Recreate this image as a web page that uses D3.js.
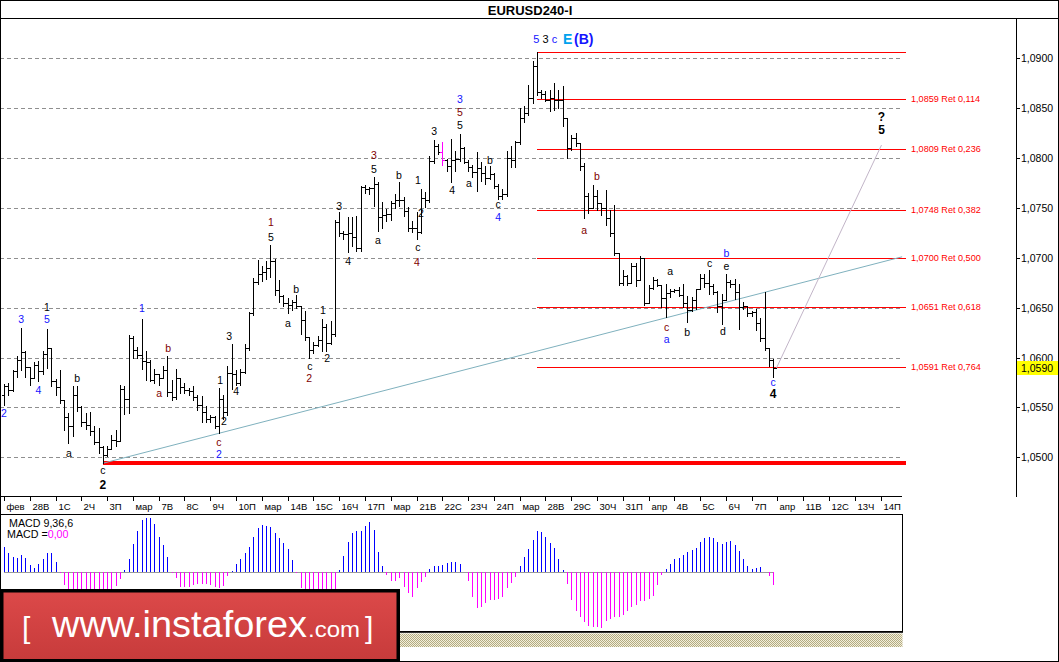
<!DOCTYPE html>
<html><head><meta charset="utf-8">
<script src="https://cdn.jsdelivr.net/npm/d3@7"></script>
<style>body{margin:0;background:#fff}svg{display:block}text{font-family:"Liberation Sans",Arial,sans-serif}</style>
</head><body><svg id="c" width="1059" height="662"></svg>
<script>
// ---------------- DATA ----------------
const barOpen = [
1.0562,1.0571,1.0567,1.0587,1.0598,1.0606,1.0591,1.0580,1.0593,1.0587,
1.0604,1.0610,1.0576,1.0570,1.0557,1.0540,1.0531,1.0562,1.0550,1.0535,
1.0532,1.0526,1.0515,1.0510,1.0502,1.0508,1.0517,1.0516,1.0568,1.0558,
1.0620,1.0608,1.0603,1.0597,1.0596,1.0577,1.0584,1.0580,1.0588,1.0565,
1.0560,1.0580,1.0570,1.0567,1.0566,1.0560,1.0552,1.0545,1.0538,1.0540,
1.0531,1.0558,1.0545,1.0585,1.0584,1.0574,1.0586,1.0610,1.0645,1.0676,
1.0684,1.0686,1.0690,1.0697,1.0668,1.0662,1.0655,1.0653,1.0656,1.0652,
1.0638,1.0621,1.0608,1.0613,1.0618,1.0631,1.0615,1.0624,1.0736,1.0725,
1.0724,1.0725,1.0721,1.0710,1.0771,1.0769,1.0770,1.0774,1.0741,1.0743,
1.0744,1.0755,1.0758,1.0758,1.0747,1.0730,1.0730,1.0726,1.0760,1.0758,
1.0797,1.0812,1.0806,1.0798,1.0792,1.0798,1.0799,1.0810,1.0796,1.0791,
1.0786,1.0790,1.0785,1.0780,1.0784,1.0772,1.0762,1.0764,1.0800,1.0798,
1.0816,1.0840,1.0845,1.0860,1.0892,1.0866,1.0864,1.0858,1.0860,1.0858,
1.0858,1.0840,1.0810,1.0820,1.0815,1.0792,1.0762,1.0750,1.0762,1.0755,
1.0750,1.0740,1.0725,1.0705,1.0675,1.0682,1.0675,1.0692,1.0678,1.0700,
1.0655,1.0670,1.0678,1.0673,1.0660,1.0665,1.0667,1.0668,1.0663,1.0655,
1.0648,1.0658,1.0669,1.0680,1.0675,1.0672,1.0666,1.0652,1.0658,1.0676,
1.0674,1.0666,1.0651,1.0652,1.0645,1.0646,1.0635,1.0620,1.0610,1.0598];
const barHigh = [
1.0573,1.0574,1.0588,1.0602,1.0630,1.0607,1.0591,1.0596,1.0597,1.0607,
1.0629,1.0610,1.0578,1.0588,1.0557,1.0544,1.0571,1.0571,1.0551,1.0544,
1.0545,1.0531,1.0529,1.0511,1.0511,1.0522,1.0527,1.0572,1.0571,1.0623,
1.0622,1.0611,1.0639,1.0607,1.0598,1.0589,1.0584,1.0592,1.0602,1.0577,
1.0589,1.0580,1.0574,1.0569,1.0571,1.0562,1.0561,1.0551,1.0542,1.0541,
1.0569,1.0562,1.0592,1.0614,1.0588,1.0589,1.0614,1.0646,1.0680,1.0698,
1.0692,1.0697,1.0713,1.0699,1.0678,1.0663,1.0660,1.0658,1.0663,1.0652,
1.0647,1.0621,1.0616,1.0622,1.0639,1.0634,1.0637,1.0738,1.0746,1.0727,
1.0741,1.0741,1.0742,1.0772,1.0773,1.0771,1.0781,1.0776,1.0756,1.0749,
1.0757,1.0764,1.0776,1.0761,1.0751,1.0737,1.0746,1.0769,1.0766,1.0802,
1.0818,1.0814,1.0816,1.0799,1.0819,1.0807,1.0824,1.0811,1.0798,1.0793,
1.0806,1.0796,1.0792,1.0792,1.0785,1.0774,1.0769,1.0807,1.0812,1.0817,
1.0850,1.0852,1.0873,1.0897,1.0906,1.0868,1.0867,1.0868,1.0875,1.0868,
1.0872,1.0840,1.0823,1.0825,1.0815,1.0795,1.0765,1.0773,1.0768,1.0755,
1.0768,1.0748,1.0753,1.0705,1.0688,1.0683,1.0695,1.0695,1.0702,1.0700,
1.0673,1.0681,1.0679,1.0673,1.0674,1.0669,1.0669,1.0671,1.0674,1.0662,
1.0661,1.0669,1.0684,1.0684,1.0688,1.0674,1.0667,1.0664,1.0684,1.0678,
1.0679,1.0674,1.0656,1.0652,1.0647,1.0649,1.0640,1.0666,1.0610,1.0599];
const barLow = [
1.0552,1.0562,1.0566,1.0581,1.0588,1.0581,1.0572,1.0579,1.0576,1.0584,
1.0590,1.0571,1.0562,1.0554,1.0527,1.0514,1.0521,1.0546,1.0531,1.0528,
1.0522,1.0513,1.0504,1.0494,1.0501,1.0508,1.0511,1.0516,1.0543,1.0544,
1.0600,1.0600,1.0589,1.0577,1.0576,1.0574,1.0572,1.0579,1.0561,1.0557,
1.0558,1.0564,1.0564,1.0562,1.0557,1.0547,1.0535,1.0535,1.0535,1.0529,
1.0524,1.0538,1.0542,1.0568,1.0572,1.0572,1.0585,1.0608,1.0643,1.0674,
1.0677,1.0679,1.0681,1.0663,1.0656,1.0652,1.0645,1.0648,1.0650,1.0624,
1.0618,1.0600,1.0605,1.0612,1.0607,1.0607,1.0614,1.0622,1.0722,1.0719,
1.0706,1.0712,1.0707,1.0707,1.0765,1.0764,1.0752,1.0727,1.0730,1.0737,
1.0738,1.0750,1.0752,1.0742,1.0727,1.0726,1.0719,1.0725,1.0751,1.0756,
1.0795,1.0804,1.0793,1.0787,1.0776,1.0787,1.0797,1.0795,1.0787,1.0781,
1.0767,1.0777,1.0774,1.0779,1.0770,1.0759,1.0759,1.0762,1.0791,1.0791,
1.0814,1.0836,1.0843,1.0855,1.0863,1.0860,1.0857,1.0847,1.0848,1.0850,
1.0832,1.0800,1.0808,1.0812,1.0788,1.0740,1.0745,1.0750,1.0748,1.0743,
1.0733,1.0722,1.0703,1.0673,1.0673,1.0673,1.0675,1.0672,1.0678,1.0653,
1.0655,1.0669,1.0672,1.0651,1.0641,1.0661,1.0666,1.0662,1.0651,1.0636,
1.0647,1.0649,1.0669,1.0671,1.0664,1.0664,1.0646,1.0634,1.0658,1.0671,
1.0659,1.0629,1.0649,1.0642,1.0642,1.0628,1.0617,1.0608,1.0592,1.0581];
const barClose = [
1.0571,1.0567,1.0587,1.0598,1.0606,1.0591,1.0580,1.0593,1.0587,1.0604,
1.0610,1.0576,1.0570,1.0557,1.0540,1.0531,1.0562,1.0550,1.0535,1.0532,
1.0526,1.0515,1.0510,1.0502,1.0508,1.0517,1.0516,1.0568,1.0558,1.0620,
1.0608,1.0603,1.0597,1.0596,1.0577,1.0584,1.0580,1.0588,1.0565,1.0560,
1.0580,1.0570,1.0567,1.0566,1.0560,1.0552,1.0545,1.0538,1.0540,1.0531,
1.0558,1.0545,1.0585,1.0584,1.0574,1.0586,1.0610,1.0645,1.0676,1.0684,
1.0686,1.0690,1.0697,1.0668,1.0662,1.0655,1.0653,1.0656,1.0652,1.0638,
1.0621,1.0608,1.0613,1.0618,1.0631,1.0615,1.0624,1.0736,1.0725,1.0724,
1.0725,1.0721,1.0710,1.0771,1.0769,1.0770,1.0774,1.0741,1.0743,1.0744,
1.0755,1.0758,1.0758,1.0747,1.0730,1.0730,1.0726,1.0760,1.0758,1.0797,
1.0812,1.0806,1.0798,1.0792,1.0798,1.0799,1.0810,1.0796,1.0791,1.0786,
1.0790,1.0785,1.0780,1.0784,1.0772,1.0762,1.0764,1.0800,1.0798,1.0816,
1.0840,1.0845,1.0860,1.0892,1.0866,1.0864,1.0858,1.0860,1.0858,1.0858,
1.0840,1.0810,1.0820,1.0815,1.0792,1.0762,1.0750,1.0762,1.0755,1.0750,
1.0740,1.0725,1.0705,1.0675,1.0682,1.0675,1.0692,1.0678,1.0700,1.0655,
1.0670,1.0678,1.0673,1.0660,1.0665,1.0667,1.0668,1.0663,1.0655,1.0648,
1.0658,1.0669,1.0680,1.0675,1.0672,1.0666,1.0652,1.0658,1.0676,1.0674,
1.0666,1.0651,1.0652,1.0645,1.0646,1.0635,1.0620,1.0610,1.0598,1.0590];
// MACD histogram (x 1e-5)
const macdHist = [
25,19,14.3,14,16.7,13.3,6.7,3.3,7.7,12.3,
19,19,10,-1.7,-13,-20,-22,-24,-25,-25,
-24,-23,-22,-21,-20,-18,-14,-7,1.7,12.7,
28,40.7,51.7,54,53.3,47.3,35,26.7,15,-1.7,
-6.7,-15,-15.7,-15,-13.3,-12.3,-12.3,-12.3,-13.7,-15.7,
-16.7,-14.3,-4.3,0.7,7.7,12.7,18.3,24.3,34.3,43.3,
46.7,46,45,39,33.3,29,22.3,11.7,-1.7,-16,
-20,-22,-23,-23,-22,-21,-20,-18,1.3,15.7,
30,38.3,41,41,45.7,50,41.7,20,5.7,-3.3,
-9,-9,-6.7,-15,-21,-25.7,-16.7,-10,-5,2.7,
5.7,5.7,6.7,9,9.7,9.7,7.7,0,-9,-25,
-36.7,-35,-31.7,-28.3,-28.3,-27.7,-25.7,-16.7,-11.7,-5.7,
5.7,15,23,31.3,40.7,39.7,34.3,28.7,23.3,12.3,
1.3,-12.7,-28.7,-39.3,-45.3,-50.3,-54.7,-55.3,-55.3,-56.3,
-49.3,-47,-45.3,-45.3,-43.3,-39.3,-35.3,-33.7,-29.3,-29.3,
-27,-24.7,-13.7,-3.7,2.3,7.3,12.3,13.3,16.3,19.7,
21.7,23.7,29.3,33.3,34.3,33.3,29.3,27.3,29.3,30.3,
27,20.3,12.3,5.3,2.7,3.3,4.7,0.3,-4.7,-13.7];
const dayLabels = ["фев","28В","1С","2Ч","3П","мар","7В","8С","9Ч","10П","мар","14В","15С","16Ч","17П","мар","21В","22С","23Ч","24П","мар","28В","29С","30Ч","31П","апр","4В","5С","6Ч","7П","апр","11В","12С","13Ч","14П"];
const barsPerDay = 6;
const priceTicks = [1.0500,1.0550,1.0600,1.0650,1.0700,1.0750,1.0800,1.0850,1.0900];
const fibTop = 1.0906, fibBase = 1.0494;
const fibLevels = [1.0859,1.0809,1.0748,1.0700,1.0651,1.0591];
const fibLabels = ["1,0859 Ret 0,114","1,0809 Ret 0,236","1,0748 Ret 0,382","1,0700 Ret 0,500","1,0651 Ret 0,618","1,0591 Ret 0,764"];
const fibTopBar = 124, fibBaseBar = 23, fibEndBar = 210;
const trendLine = [[23,1.0494],[209,1.0701]];
const projectionLine = [[179.7,1.0589],[204.2,1.0813]];
const currentPrice = 1.0590;
const highlightBar = 102;
// wave labels: text, bar index, price, colour key, bold
const waveLabels = [
["2",0,1.0544,"B"],["3",4,1.0639,"B"],["1",10,1.0651,"K"],["5",10,1.0639,"B"],["4",8,1.0567,"B"],
["b",17,1.0580,"K"],["a",15.1,1.0504,"K"],["c",23,1.0487,"K"],["2",23,1.0472,"K",1],
["1",32.1,1.0650,"B"],["b",38.2,1.0610,"R"],["a",36.1,1.0564,"R"],
["1",50.3,1.0577,"K"],["2",51.2,1.0536,"K"],["3",52.4,1.0622,"K"],["4",54,1.0566,"K"],
["c",50,1.0515,"R"],["2",50,1.0503,"B"],
["1",62.1,1.0736,"R"],["5",62.1,1.0721,"K"],["b",68,1.0669,"K"],["a",66.1,1.0635,"K"],
["c",71.2,1.0592,"K"],["2",71,1.0580,"R"],["1",74.2,1.0648,"K"],["2",75.2,1.0600,"K"],
["3",78,1.0752,"K"],["4",80.1,1.0697,"K"],["3",86.1,1.0803,"R"],["5",86.1,1.0789,"K"],
["a",87,1.0718,"K"],["b",91.9,1.0783,"K"],["1",96.3,1.0778,"K"],["2",97,1.0745,"K"],
["c",96.3,1.0711,"K"],["4",96.1,1.0696,"R"],["3",100.1,1.0827,"K"],
["3",106.1,1.0859,"B"],["5",106.1,1.0846,"R"],["5",106.1,1.0833,"K"],["4",104.3,1.0768,"K"],
["a",108.2,1.0775,"K"],["b",113.1,1.0798,"K"],["c",115,1.0754,"K"],["4",115,1.0741,"B"],
["b",138,1.0782,"R"],["a",135,1.0728,"R"],
["a",155,1.0687,"K"],["c",164.2,1.0695,"K"],["b",168.1,1.0705,"B"],["e",168.1,1.0692,"K"],
["c",154.2,1.0631,"R"],["a",154.2,1.0619,"B"],["b",159,1.0626,"K"],["d",167.3,1.0627,"K"],
["c",179,1.0575,"B"],["4",179,1.0563,"K",1],["?",204.2,1.0841,"K",1],["5",204.2,1.0828,"K",1]
];
const topLabels = [["5",123.9,"B",0],["3",126,"K",0],["c",128.1,"B",0],["E",131.2,"L",1],["(B)",134.9,"B",1]];
const topLabelPrice = 1.0919;

// ---------------- DRAW ----------------
const W = 1059, H = 662;
const svg = d3.select('#c');
const colors = {B:"#1414ff", R:"#800000", K:"#000000", L:"#00a2ee"};
const x = d3.scaleLinear().domain([0,179]).range([4,773.2]);
const y = d3.scaleLinear().domain([1.05,1.09]).range([457.3,58.3]);
const ym = d3.scaleLinear().domain([-60,60]).range([631.7,511.7]);
const cx = i => Math.round(x(i)) + 0.5;
const cy = p => Math.round(y(p)) + 0.5;

const defs = svg.append('defs');
const pat = defs.append('pattern').attr('id','hatch').attr('width',2).attr('height',2).attr('patternUnits','userSpaceOnUse');
pat.append('rect').attr('width',2).attr('height',2).attr('fill','#f3efdb');
pat.append('rect').attr('width',1).attr('height',1).attr('fill','#b3ab82');
pat.append('rect').attr('x',1).attr('y',1).attr('width',1).attr('height',1).attr('fill','#b3ab82');
const grad = defs.append('linearGradient').attr('id','redg').attr('x1',0).attr('y1',0).attr('x2',0).attr('y2',1);
grad.append('stop').attr('offset','0%').attr('stop-color','#dc4949');
grad.append('stop').attr('offset','100%').attr('stop-color','#c73b3b');

svg.append('rect').attr('width',W).attr('height',H).attr('fill','#fff');

// grid
const g = svg.append('g').attr('shape-rendering','crispEdges');
priceTicks.forEach(p => {
  g.append('line').attr('x1',0).attr('x2',902).attr('y1',cy(p)).attr('y2',cy(p))
    .attr('stroke','#8f8f8f').attr('stroke-dasharray','4,3');
});

// fib lines
[fibTop].concat(fibLevels).forEach(p => {
  g.append('line').attr('x1',x(fibTopBar)).attr('x2',x(fibEndBar)).attr('y1',cy(p)).attr('y2',cy(p))
    .attr('stroke','#ff0000').attr('stroke-width',1);
});
g.append('line').attr('x1',x(fibBaseBar)).attr('x2',x(fibEndBar)).attr('y1',y(fibBase)).attr('y2',y(fibBase))
  .attr('stroke','#ff0000').attr('stroke-width',4);

// trend & projection lines
svg.append('line').attr('x1',x(trendLine[0][0])).attr('y1',y(trendLine[0][1]))
  .attr('x2',x(trendLine[1][0])).attr('y2',y(trendLine[1][1])).attr('stroke','#7fb1be').attr('stroke-width',1);
svg.append('line').attr('x1',x(projectionLine[0][0])).attr('y1',y(projectionLine[0][1]))
  .attr('x2',x(projectionLine[1][0])).attr('y2',y(projectionLine[1][1])).attr('stroke','#c2b5c8').attr('stroke-width',1);

// bars
const bg = svg.append('g').attr('shape-rendering','crispEdges');
barOpen.forEach((o,i) => {
  const xi = cx(i), col = i === highlightBar ? '#ff00ff' : '#000';
  bg.append('line').attr('x1',xi).attr('x2',xi).attr('y1',Math.round(y(barHigh[i]))).attr('y2',Math.round(y(barLow[i]))+1).attr('stroke',col).attr('stroke-width',1);
  bg.append('line').attr('x1',xi-2.5).attr('x2',xi).attr('y1',cy(o)).attr('y2',cy(o)).attr('stroke',col).attr('stroke-width',1);
  bg.append('line').attr('x1',xi).attr('x2',xi+3).attr('y1',cy(barClose[i])).attr('y2',cy(barClose[i])).attr('stroke',col).attr('stroke-width',1);
});

// wave labels
const lg = svg.append('g');
waveLabels.forEach(d => {
  lg.append('text').attr('x',x(d[1])).attr('y',y(d[2])).attr('text-anchor','middle').attr('dominant-baseline','central')
    .attr('font-size',d[4]?12:10.5).attr('font-weight',d[4]?'bold':'normal').attr('fill',colors[d[3]]).text(d[0]);
});
topLabels.forEach(d => {
  lg.append('text').attr('x',x(d[1])).attr('y',y(topLabelPrice)).attr('text-anchor','middle').attr('dominant-baseline','central')
    .attr('font-size',d[3]?14:11).attr('font-weight',d[3]?'bold':'normal').attr('fill',colors[d[2]]).text(d[0]);
});

// fib labels
fibLevels.forEach((p,k) => {
  svg.append('text').attr('x',911).attr('y',y(p)).attr('dominant-baseline','central')
    .attr('font-size',9.1).attr('fill','#ff0000').text(fibLabels[k]);
});

// title bar
svg.append('line').attr('x1',0).attr('x2',W).attr('y1',18.5).attr('y2',18.5).attr('stroke','#000');
svg.append('text').attr('x',530).attr('y',14.5).attr('text-anchor','middle').attr('font-size',13)
  .attr('font-weight','bold').attr('fill','#000').text('EURUSD240-I');

// right price axis
const ax = svg.append('g').attr('shape-rendering','crispEdges');
ax.append('line').attr('x1',1016.5).attr('x2',1016.5).attr('y1',18).attr('y2',497).attr('stroke','#000');
priceTicks.forEach(p => {
  ax.append('line').attr('x1',1016).attr('x2',1020).attr('y1',cy(p)).attr('y2',cy(p)).attr('stroke','#000');
  ax.append('text').attr('x',1021).attr('y',y(p)).attr('dominant-baseline','central').attr('font-size',10.5)
    .attr('fill','#000').text(p.toFixed(4).replace('.',','));
});
ax.append('rect').attr('x',1017).attr('y',Math.round(y(currentPrice))-7).attr('width',41).attr('height',14).attr('fill','#ffff00');
ax.append('text').attr('x',1021).attr('y',y(currentPrice)+0.5).attr('dominant-baseline','central').attr('font-size',10.5)
  .attr('fill','#000').text(currentPrice.toFixed(4).replace('.',','));

// time axis
const tx = svg.append('g').attr('shape-rendering','crispEdges');
tx.append('line').attr('x1',0).attr('x2',902).attr('y1',496.5).attr('y2',496.5).attr('stroke','#000');
dayLabels.forEach((t,d) => {
  const xt = cx(d*barsPerDay);
  tx.append('line').attr('x1',xt).attr('x2',xt).attr('y1',496).attr('y2',501).attr('stroke','#000');
  tx.append('text').attr('x',xt+2).attr('y',509.5).attr('font-size',9.5).attr('fill','#000').text(t);
});

// MACD panel
const mg = svg.append('g').attr('shape-rendering','crispEdges');
mg.append('rect').attr('x',0.5).attr('y',514.5).attr('width',902).attr('height',117).attr('fill','#fff')
  .attr('stroke','#000').attr('stroke-width',1.5);
mg.append('line').attr('x1',0).attr('x2',903).attr('y1',632.5).attr('y2',632.5).attr('stroke','#333');
mg.append('line').attr('x1',x(0)).attr('x2',x(macdHist.length-1)).attr('y1',Math.round(ym(0))+0.5).attr('y2',Math.round(ym(0))+0.5).attr('stroke','#9a9a9a');
macdHist.forEach((v,i) => {
  if (Math.abs(v) < 0.5) return;
  mg.append('line').attr('x1',cx(i)).attr('x2',cx(i)).attr('y1',Math.round(ym(0))).attr('y2',Math.round(ym(v)))
    .attr('stroke', v > 0 ? '#0000ff' : '#ff00ff').attr('stroke-width',1);
});
svg.append('text').attr('x',9).attr('y',526.5).attr('font-size',10.7).attr('fill','#000').text('MACD 9,36,6');
const mt = svg.append('text').attr('x',7).attr('y',538).attr('font-size',10.7).attr('fill','#000');
mt.append('tspan').text('MACD =');
mt.append('tspan').attr('fill','#ff00ff').text('0,00');

// hatched strip
svg.append('rect').attr('x',400).attr('y',633.5).attr('width',502.5).attr('height',13.5).attr('fill','url(#hatch)');

// instaforex banner
svg.append('rect').attr('x',1.75).attr('y',590.75).attr('width',396.5).attr('height',70).attr('fill','url(#redg)')
  .attr('stroke','#000').attr('stroke-width',3.5);
const bf = '"Open Sans","Noto Sans",sans-serif';
svg.append('text').attr('x',22).attr('y',638).attr('font-family',bf).attr('font-weight',300).attr('font-size',30).attr('fill','#fff').text('[');
svg.append('text').attr('x',52).attr('y',636.7).attr('font-family',bf).attr('font-weight',300).attr('font-size',37)
  .attr('fill','#fff').attr('textLength',255).attr('lengthAdjust','spacingAndGlyphs').text('www.instaforex');
svg.append('text').attr('x',308).attr('y',636.7).attr('font-family',bf).attr('font-weight',300).attr('font-size',22)
  .attr('fill','#fff').attr('textLength',52).attr('lengthAdjust','spacingAndGlyphs').text('.com');
svg.append('text').attr('x',365).attr('y',638).attr('font-family',bf).attr('font-weight',300).attr('font-size',30).attr('fill','#fff').text(']');

// outer frame
svg.append('rect').attr('x',0.5).attr('y',0.5).attr('width',W-1).attr('height',H-1).attr('fill','none').attr('stroke','#000');
</script></body></html>
